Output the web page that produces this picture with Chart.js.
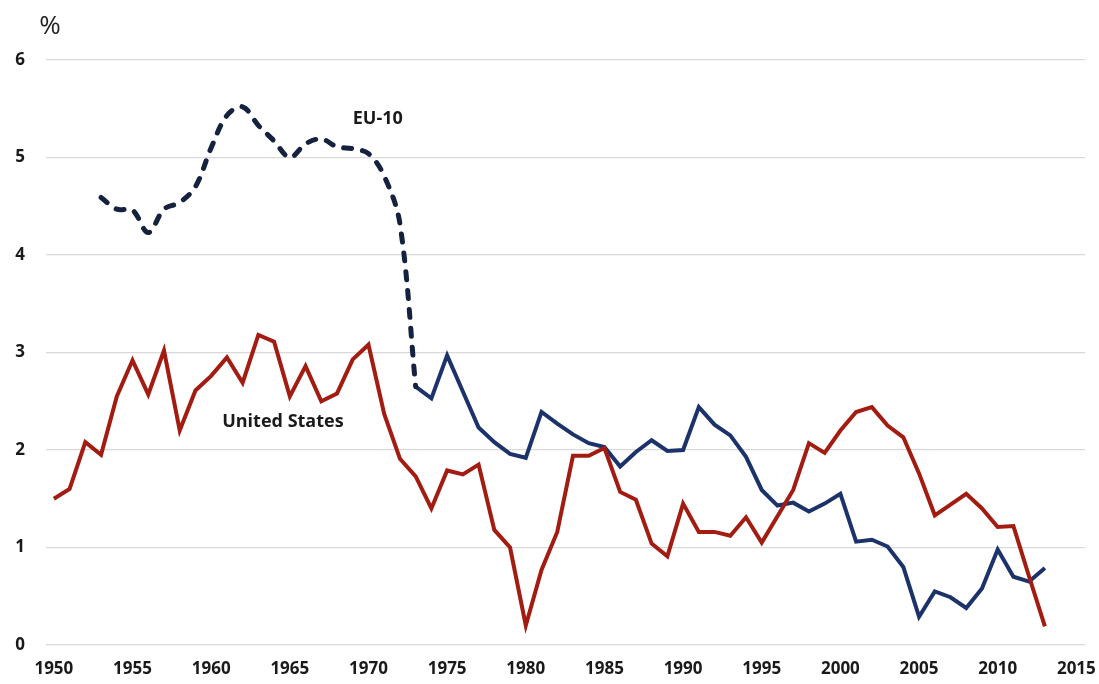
<!DOCTYPE html>
<html>
<head>
<meta charset="utf-8">
<script src="https://cdn.jsdelivr.net/npm/chart.js@4.4.1/dist/chart.umd.min.js"></script>
<style>
  html, body { margin: 0; padding: 0; background: #ffffff; }
  #wrap { width: 1099px; height: 684px; }
</style>
</head>
<body>
<div id="wrap"><canvas id="c" width="1099" height="684"></canvas></div>
<script>
// ---- Data ----
const startYear = 1950;
const usValues = [
  1.50, 1.60, 2.08, 1.95, 2.55, 2.92, 2.57, 3.02, 2.20, 2.61,
  2.76, 2.95, 2.69, 3.18, 3.11, 2.55, 2.86, 2.50, 2.58, 2.93,
  3.08, 2.37, 1.91, 1.73, 1.40, 1.79, 1.75, 1.85, 1.18, 1.00,
  0.20, 0.77, 1.16, 1.94, 1.94, 2.02, 1.57, 1.49, 1.04, 0.91,
  1.45, 1.16, 1.16, 1.12, 1.31, 1.05, 1.32, 1.59, 2.07, 1.97,
  2.20, 2.39, 2.44, 2.25, 2.13, 1.76, 1.33, 1.44, 1.55, 1.40,
  1.21, 1.22, 0.70, 0.19
];
const euStartYear = 1953;
const euValues = [
  4.59, 4.47, 4.46, 4.23, 4.47, 4.54, 4.70,
  5.10, 5.43, 5.52, 5.33, 5.17, 5.00, 5.14, 5.19, 5.11, 5.09,
  5.04, 4.81, 4.32, 2.65, 2.53, 2.97, 2.60, 2.23, 2.08, 1.96,
  1.92, 2.39, 2.27, 2.16, 2.07, 2.03, 1.83, 1.98, 2.10, 1.99,
  2.00, 2.44, 2.26, 2.15, 1.93, 1.59, 1.43, 1.46, 1.37, 1.45,
  1.55, 1.06, 1.08, 1.01, 0.80, 0.29, 0.55, 0.49, 0.38, 0.58,
  0.98, 0.70, 0.65, 0.79
];
const euBreakYear = 1973;           // dashed (estimated) before, solid after
const xTickLabels = [1950, 1955, 1960, 1965, 1970, 1975, 1980, 1985, 1990, 1995, 2000, 2005, 2010, 2015];
const yTickLabels = [0, 1, 2, 3, 4, 5, 6];
const seriesNames = ['United States', 'EU-10'];
const unitLabel = '%';

// ---- Build points ----
const usPoints = usValues.map((v, i) => ({ x: startYear + i, y: v }));
const euPoints = euValues.map((v, i) => ({ x: euStartYear + i, y: v }));
const euDashedPoints = euPoints.filter(p => p.x <= euBreakYear);
const euSolidPoints = euPoints.filter(p => p.x >= euBreakYear);

const tickFont = { family: "'Open Sans', 'DejaVu Sans', sans-serif", size: 17, weight: 'bold' };

const textPlugin = {
  id: 'seriesText',
  afterDatasetsDraw(chart) {
    const ctx = chart.ctx;
    const xs = chart.scales.x, ys = chart.scales.y;
    ctx.save();
    ctx.fillStyle = '#1a1a1a';
    ctx.font = "bold 18px 'Open Sans', 'DejaVu Sans', sans-serif";
    ctx.textAlign = 'left';
    ctx.textBaseline = 'middle';
    // series name labels anchored in data space
    ctx.fillText(seriesNames[1], xs.getPixelForValue(1969.0), ys.getPixelForValue(5.40));
    ctx.fillText(seriesNames[0], xs.getPixelForValue(1960.7), ys.getPixelForValue(2.29));
    // unit label above the value axis
    ctx.font = "26px 'Open Sans', 'DejaVu Sans', sans-serif";
    ctx.fillStyle = '#222222';
    ctx.textAlign = 'center';
    ctx.fillText(unitLabel, chart.chartArea.left + 4, chart.chartArea.top - 33);
    ctx.restore();
  }
};

new Chart(document.getElementById('c'), {
  type: 'line',
  data: {
    datasets: [
      {
        label: seriesNames[0],
        data: usPoints,
        borderColor: '#a21c11',
        borderWidth: 4,
        pointRadius: 0,
        tension: 0,
        borderJoinStyle: 'miter',
        fill: false
      },
      {
        label: seriesNames[1] + ' (est.)',
        data: euDashedPoints,
        borderColor: '#15223f',
        borderWidth: 5,
        borderDash: [8, 11],
        borderCapStyle: 'round',
        pointRadius: 0,
        tension: 0.35,
        fill: false
      },
      {
        label: seriesNames[1],
        data: euSolidPoints,
        borderColor: '#1c326a',
        borderWidth: 4,
        pointRadius: 0,
        tension: 0,
        borderJoinStyle: 'miter',
        fill: false
      }
    ]
  },
  options: {
    responsive: false,
    animation: false,
    devicePixelRatio: 1,
    layout: { padding: { top: 60, right: 14, bottom: 0, left: 0 } },
    plugins: {
      legend: { display: false },
      tooltip: { enabled: false }
    },
    scales: {
      x: {
        type: 'linear',
        min: 1949.5,
        max: 2015.55,
        grid: { display: false, drawTicks: false },
        border: { display: false },
        afterBuildTicks: (s) => { s.ticks = xTickLabels.map(v => ({ value: v })); },
        afterFit: (s) => { s.height = 39; s.paddingLeft = 0; s.paddingRight = 0; },
        ticks: {
          autoSkip: false,
          maxRotation: 0,
          padding: 14,
          color: '#1a1a1a',
          font: tickFont,
          callback: (v) => String(v)
        }
      },
      y: {
        type: 'linear',
        min: 0,
        max: 6,
        afterBuildTicks: (s) => { s.ticks = yTickLabels.map(v => ({ value: v })); },
        afterFit: (s) => { s.width = 46; s.paddingTop = 0; s.paddingBottom = 0; },
        grid: { color: '#d9d9d9', lineWidth: 1.2, drawTicks: false },
        border: { display: false },
        ticks: {
          padding: 21,
          color: '#1a1a1a',
          font: tickFont,
          callback: (v) => String(v)
        }
      }
    }
  },
  plugins: [textPlugin]
});
</script>
</body>
</html>
